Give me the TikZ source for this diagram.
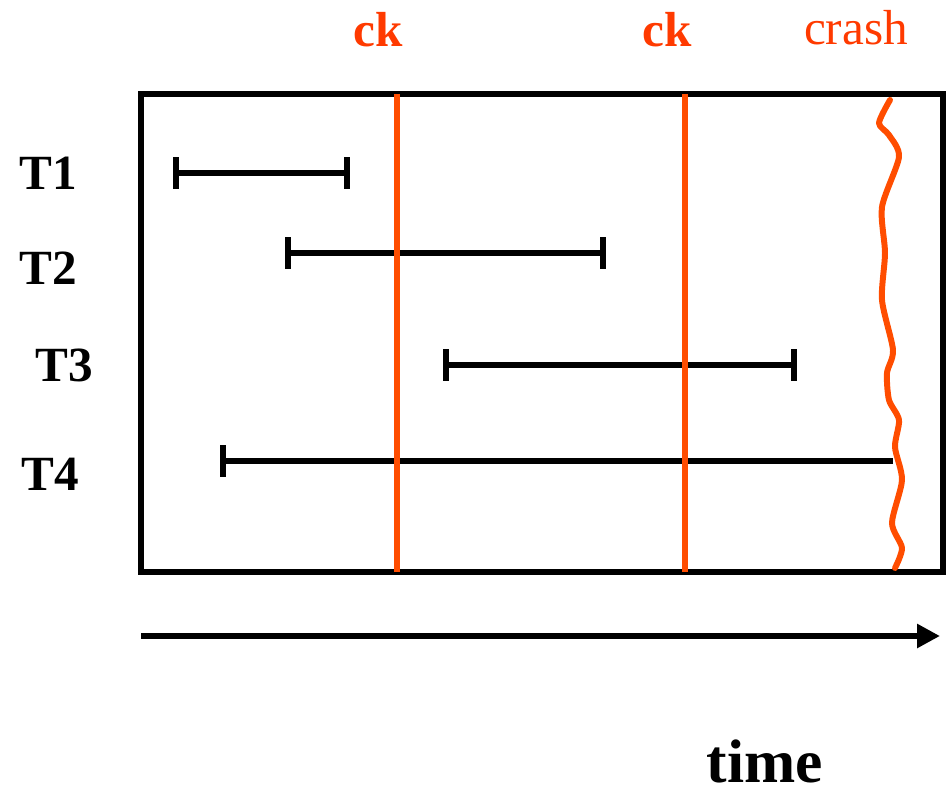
\documentclass[tikz,border=0pt]{standalone}
\usepackage{fontspec}
\setmainfont{LiberationSerif}[
    Extension=.ttf,
    UprightFont=*-Regular,
    BoldFont=*-Bold,
    ItalicFont=*-Italic,
    BoldItalicFont=*-BoldItalic]
\usetikzlibrary{arrows.meta}

\definecolor{ckline}{RGB}{255,77,0}
\definecolor{cktext}{RGB}{255,58,0}

\tikzset{
    txlabel/.style={inner sep=0pt, font=\fontsize{28}{30}\selectfont\bfseries},
    cklabel/.style={inner sep=0pt, text=cktext, font=\fontsize{28}{30}\selectfont\bfseries},
    txspan/.style={line width=3.4pt, {Bar[width=18pt]}-{Bar[width=18pt]}},
    cut/.style={line width=3.4pt, ckline}
}

\begin{document}
\begin{tikzpicture}[x=0.02cm, y=-0.02cm]
            \useasboundingbox (0, 0) rectangle (948, 794);

            % frame
            \coordinate (NW) at (141, 94);
            \coordinate (SE) at (943, 572);
            \draw[line width=3.4pt] (NW) rectangle (SE);

            % transactions
            \node[txlabel] (T1) at (48, 173) {T1};
            \node[txlabel] (T2) at (48, 268) {T2};
            \node[txlabel] (T3) at (64, 365) {T3};
            \node[txlabel] (T4) at (50, 474) {T4};

            \coordinate (T1s) at (173, 173);
            \coordinate (T1e) at (350, 173);
            \coordinate (T2s) at (285, 253);
            \coordinate (T2e) at (606, 253);
            \coordinate (T3s) at (443, 365);
            \coordinate (T3e) at (797, 365);
            \coordinate (T4s) at (220, 461);
            \coordinate (T4e) at (893, 461);

            \draw[txspan] (T1s) -- (T1e);
            \draw[txspan] (T2s) -- (T2e);
            \draw[txspan] (T3s) -- (T3e);
            \draw[line width=3.4pt, {Bar[width=18pt]}-] (T4s) -- (T4e);

            % checkpoints
            \node[cklabel] (ck1) at (378, 30) {ck};
            \node[cklabel] (ck2) at (667, 30) {ck};
            \coordinate (C1t) at (397, 94);
            \coordinate (C1b) at (397, 572);
            \coordinate (C2t) at (685, 94);
            \coordinate (C2b) at (685, 572);
            \draw[cut] (C1t) -- (C1b);
            \draw[cut] (C2t) -- (C2b);

            % crash
            \node[inner sep=0pt, text=cktext, font=\fontsize{28}{30}\selectfont] (crash) at (856, 28) {crash};
            \draw[cut, line join=round, line cap=round] plot[smooth, tension=0.45] coordinates {
                (890,100) (879,123) (889,135) (899,157) (882,207) (885,253)
                (882,300) (893,350) (887,373) (889,400) (899,420) (895,447)
                (902,480) (892,523) (902,548) (895,568)};

            % time axis
            \coordinate (A0) at (141, 636);
            \coordinate (A1) at (940, 636);
            \draw[line width=3.4pt, -{Triangle[length=13pt, width=13pt]}] (A0) -- (A1);
            \node[inner sep=0pt, font=\fontsize{35}{38}\selectfont\bfseries] (time) at (765, 761) {time};
\end{tikzpicture}
\end{document}
